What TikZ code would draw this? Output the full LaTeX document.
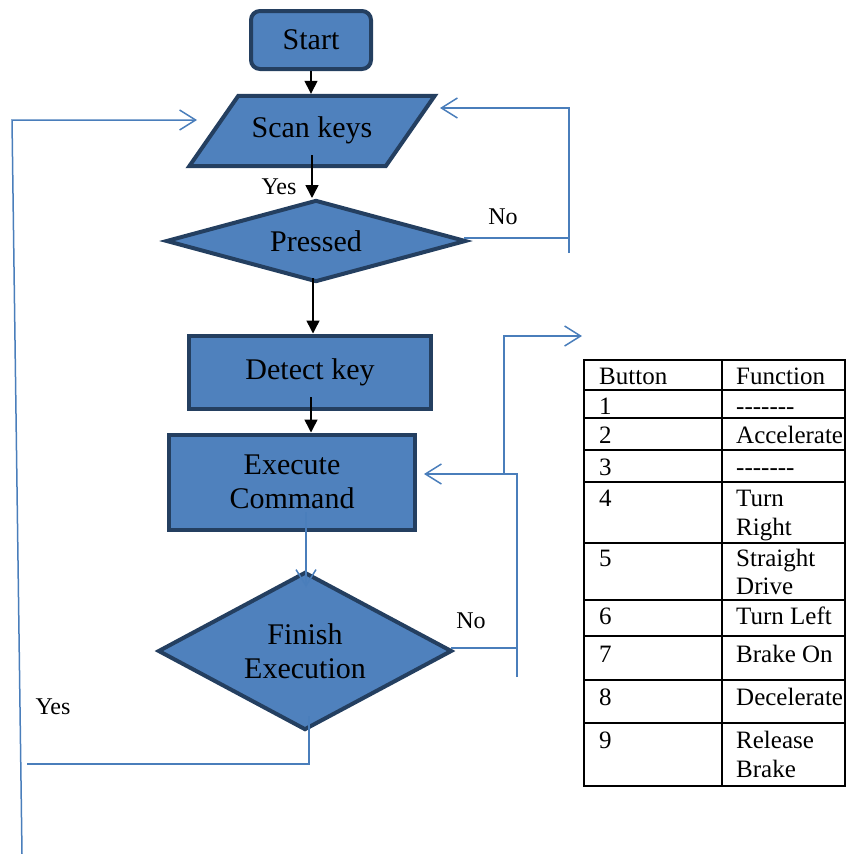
\documentclass[tikz,border=0pt]{standalone}
\usepackage{fontspec}
\setmainfont{Liberation Serif}
\usetikzlibrary{arrows.meta,shapes.geometric,calc}
\definecolor{boxfill}{HTML}{4F81BD}
\definecolor{boxline}{HTML}{243F60}
\definecolor{conn}{HTML}{4A7EBB}
\pgfdeclarelayer{bg}
\pgfsetlayers{bg,main}
\newcommand{\dashrow}{-\kern0pt-\kern0pt-\kern0pt-\kern0pt-\kern0pt-\kern0pt-}
\tikzset{
  shapebase/.style={draw=boxline, fill=boxfill, line width=4pt, font=\fontsize{30}{34}\selectfont, align=center, inner sep=0pt},
  procbox/.style={shapebase, rectangle},
  startbox/.style={shapebase, rectangle, rounded corners=9pt},
  decision/.style={shapebase, diamond},
  textonly/.style={font=\fontsize{30}{34}\selectfont, align=center, inner sep=0pt, rectangle},
  blk/.style={draw=black, line width=1.5pt, -{Triangle[length=13pt,width=13pt]}},
  blu/.style={draw=conn, line width=1.5pt},
  bluarr/.style={blu, -{Straight Barb[length=16pt,width=20pt,line width=1.5pt]}},
  lbl/.style={font=\fontsize{24}{28}\selectfont, inner sep=0pt},
  tbl/.style={font=\fontsize{25}{29}\selectfont, inner sep=0pt, anchor=base west},
  tline/.style={draw=black, line width=1.8pt}
}
\begin{document}
\begin{tikzpicture}[x=1pt,y=-1pt]
\useasboundingbox (0,0) rectangle (846,854);
% shapes
\node[startbox, minimum width=120pt, minimum height=58pt] (start) at (311,40) {Start};
\node[textonly, minimum width=196pt, minimum height=70pt] (scan) at (312,131) {Scan keys\strut};
\begin{pgfonlayer}{bg}
\draw[shapebase] ($(scan.north west)+(24.5,0)$) -- ($(scan.north east)+(24.5,0)$)
   -- ($(scan.south east)+(-24.5,0)$) -- ($(scan.south west)+(-24.5,0)$) -- cycle;
\end{pgfonlayer}
\node[decision, aspect=3.66, minimum width=300pt, minimum height=82pt] (pressed) at (316,241) {Pressed};
\node[procbox, minimum width=242pt, minimum height=73pt] (detect) at (310,372) {Detect key};
\node[procbox, minimum width=246pt, minimum height=95pt] (exec) at (292,482) {Execute\\Command};
\node[decision, aspect=1.86, minimum width=294pt, minimum height=158pt] (finish) at (305,651) {Finish\\Execution};
% labels
\node[lbl] (yes1) at (279,187) {Yes};
\node[lbl] (no1) at (503,217) {No};
\node[lbl] (no2) at (471,621) {No};
\node[lbl] (yes2) at (53,707) {Yes};
% coordinates
\coordinate (lbot) at (22,854);
\coordinate (ltop) at (12,120);
\coordinate (scanin) at (197,120);
\coordinate (nr1) at (569,253);
\coordinate (scanarr) at (440,108);
\coordinate (nb) at (517,677);
\coordinate (jn) at (504,474);
\coordinate (execin) at (424,474);
\coordinate (tblarr) at (582,336);
\coordinate (yesend) at (27,764);
% black connectors
\draw[blk] (start.south) -- ($(start.south |- scan.north)+(0,-2)$);
\draw[blk] ($(start.south |- scan.center)+(1,24)$) -- ($(start.south |- pressed.north)+(1,0)$);
\draw[blk] ($(start.south |- pressed.south)+(2,-6)$) -- ($(start.south |- detect.north)+(2,0)$);
\draw[blk] ($(start.south |- detect.center)+(0,25)$) -- (start.south |- exec.north);
% blue connectors
\draw[bluarr] ($(finish.north |- exec.center)+(1,30)$) -- ($(finish.north)+(1,17)$);
\draw[blu] ($(finish.south)+(4,-16)$) |- (yesend);
\draw[bluarr] (lbot) -- (ltop) -- (scanin);
\draw[blu] ($(pressed.east)+(-4,-3)$) -- ($(pressed.east -| nr1)+(0,-3)$);
\draw[bluarr] (nr1) |- (scanarr);
\draw[blu] ($(finish.east)+(-3,-3)$) -- ($(finish.east -| nb)+(0,-3)$);
\draw[blu] (nb) |- (jn);
\draw[bluarr] (jn) -- (execin);
\draw[bluarr] (jn) |- (tblarr);
% table
\draw[tline] (584,360) rectangle (845,786);
\draw[tline] (722,360) -- (722,786);
\foreach \yy in {390,418,450,482,543,600,636,680,723}
  \draw[tline] (584,\yy) -- (845,\yy);
\node[tbl] (th1) at (599,384) {Button};
\node[tbl] (th2) at (736,384) {Function};
\node[tbl] (r1a) at (599,414) {1};
\node[tbl] (r1b) at (736,414) {\dashrow};
\node[tbl] (r2a) at (599,443) {2};
\node[tbl] (r2b) at (736,443) {Accelerate};
\node[tbl] (r3a) at (599,475) {3};
\node[tbl] (r3b) at (736,475) {\dashrow};
\node[tbl] (r4a) at (599,506) {4};
\node[tbl] (r4b) at (736,506) {Turn};
\node[tbl] (r4c) at (736,535) {Right};
\node[tbl] (r5a) at (599,566) {5};
\node[tbl] (r5b) at (736,566) {Straight};
\node[tbl] (r5c) at (736,594) {Drive};
\node[tbl] (r6a) at (599,624) {6};
\node[tbl] (r6b) at (736,624) {Turn Left};
\node[tbl] (r7a) at (599,662) {7};
\node[tbl] (r7b) at (736,662) {Brake On};
\node[tbl] (r8a) at (599,705) {8};
\node[tbl] (r8b) at (736,705) {Decelerate};
\node[tbl] (r9a) at (599,748) {9};
\node[tbl] (r9b) at (736,748) {Release};
\node[tbl] (r9c) at (736,777) {Brake};
\end{tikzpicture}
\end{document}
